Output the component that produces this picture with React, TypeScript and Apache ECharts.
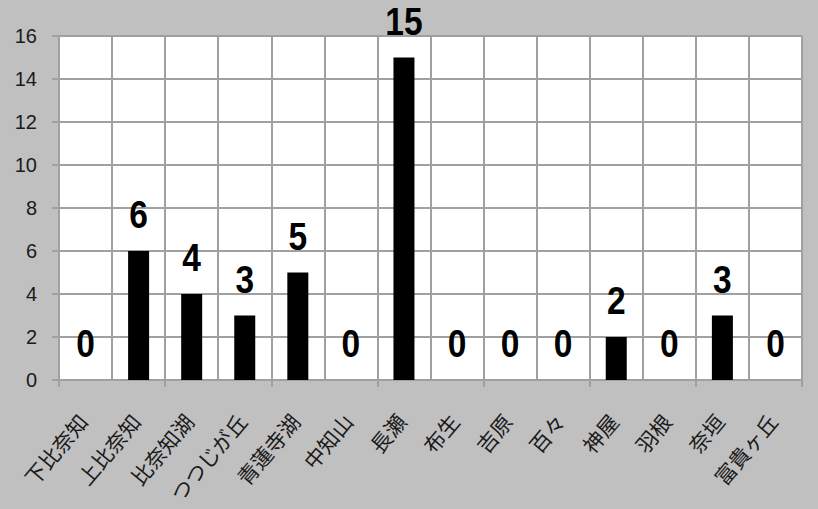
import React, { useEffect, useRef } from "react";
import * as echarts from "echarts";

const categories = ["下比奈知", "上比奈知", "比奈知湖", "つつじが丘", "青蓮寺湖", "中知山", "長瀬", "布生", "吉原", "百々", "神屋", "羽根", "奈垣", "富貴ヶ丘"];
const values = [0, 6, 4, 3, 5, 0, 15, 0, 0, 0, 2, 0, 3, 0];
const yMin = 0;
const yMax = 16;
const yInterval = 2;

export default function App() {
  const ref = useRef<HTMLDivElement>(null);
  useEffect(() => {
    if (!ref.current) return;
    const chart = echarts.init(ref.current, null, { renderer: "svg" });
    chart.setOption({
      animation: false,
      backgroundColor: "#c0c0c0",
      grid: {
        left: 59,
        right: 16,
        top: 36,
        bottom: 129,
        show: true,
        backgroundColor: "#ffffff",
        borderColor: "#a0a0a0",
        borderWidth: 1,
        containLabel: false,
      },
      xAxis: {
        type: "category",
        data: categories,
        axisLine: { lineStyle: { color: "#a0a0a0", width: 2 } },
        axisTick: { show: true, length: 7, lineStyle: { color: "#a0a0a0", width: 2 } },
        splitLine: { show: true, interval: 0, lineStyle: { color: "#a0a0a0", width: 2 } },
        axisLabel: { show: false },
      },
      yAxis: {
        type: "value",
        min: yMin,
        max: yMax,
        interval: yInterval,
        axisLine: { show: false },
        axisTick: { show: true, length: 7, lineStyle: { color: "#a0a0a0", width: 2 } },
        splitLine: { show: true, lineStyle: { color: "#a0a0a0", width: 2 } },
        axisLabel: {
          fontSize: 20,
          color: "#1a1a1a",
          margin: 22,
          fontFamily: "Liberation Sans, Arial, sans-serif",
        },
      },
      series: [
        {
          type: "bar",
          data: values,
          barWidth: 21,
          itemStyle: { color: "#000000" },
          z: 2,
        },
        {
          type: "custom",
          data: values.map((v, i) => [i, v]),
          z: 3,
          clip: false,
          renderItem: (params: any, api: any) => {
            const pt = api.coord([api.value(0), api.value(1)]);
            return {
              type: "text",
              x: pt[0],
              y: pt[1] - 36,
              scaleX: 0.86,
              style: {
                text: String(api.value(1)),
                fontSize: 39,
                lineHeight: 30,
                fontWeight: "bold",
                fontFamily: "Liberation Sans, Arial, sans-serif",
                fill: "#000000",
                align: "center",
                verticalAlign: "middle",
              },
            };
          },
        },
        {
          type: "custom",
          data: categories.map((c, i) => [i, 0]),
          z: 3,
          clip: false,
          silent: true,
          renderItem: (params: any, api: any) => {
            const pt = api.coord([api.value(0), 0]);
            return {
              type: "text",
              x: pt[0] - 3,
              y: pt[1] + 37,
              rotation: (50 * Math.PI) / 180,
              style: {
                text: categories[params.dataIndex],
                fontSize: 21,
                fontFamily: "Noto Sans CJK JP, sans-serif",
                fill: "#1a1a1a",
                align: "right",
                verticalAlign: "middle",
              },
            };
          },
        },
      ],
    });
    return () => chart.dispose();
  }, []);
  return <div ref={ref} style={{ width: 818, height: 509, position: "absolute", left: 0, top: 0 }} />;
}
